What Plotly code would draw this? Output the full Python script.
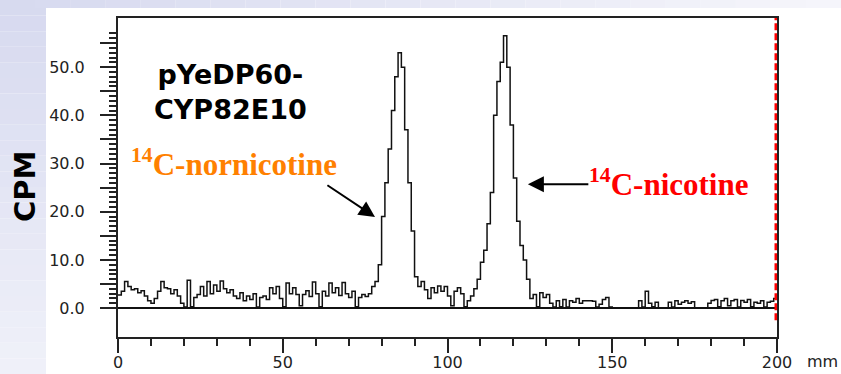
import plotly.graph_objects as go

# ---- data ----
position_mm = list(range(0, 201))
cpm = [
    2.7, 3.5, 5.5, 4.5, 3.8, 4.0, 3.2, 3.6, 2.5, 1.5,
    1.0, 2.0, 3.5, 5.5, 4.2, 4.0, 3.0, 3.8, 2.5, 1.0,
    0.2, 5.8, 0.3, 2.2, 2.8, 4.5, 2.5, 5.5, 3.0, 4.8,
    3.5, 5.6, 4.0, 3.2, 3.8, 2.5, 2.0, 3.2, 1.5, 2.5,
    1.8, 3.0, 0.2, 2.2, 2.5, 1.8, 4.2, 3.0, 4.5, 2.0,
    0.3, 5.2, 3.0, 4.2, 2.8, 0.5, 2.8, 3.6, 2.4, 5.4,
    3.0, 0.3, 3.5, 2.5, 5.2, 3.2, 4.2, 2.6, 5.3, 3.0,
    2.2, 3.5, 0.3, 2.2, 2.8, 2.4, 3.0, 4.5, 5.5, 9.0,
    19.0, 26.0, 33.0, 41.0, 48.0, 53.0, 50.0, 37.0, 26.0, 16.0,
    6.5, 4.5, 5.5, 3.8, 2.0, 4.2, 3.2, 4.6, 3.5, 4.5,
    2.5, 0.5, 3.5, 4.2, 3.0, 0.3, 1.5, 2.5, 4.0, 6.0,
    9.5, 12.0, 17.5, 24.0, 40.0, 47.0, 51.0, 56.5, 50.0, 38.0,
    27.0, 18.0, 13.0, 10.0, 6.0, 2.0, 2.8, 0.3, 3.2, 2.2,
    2.8, 1.0, 0.2, 1.5, 0.3, 1.8, 0.2, 1.5, 1.2, 2.0,
    1.0, 1.5, 1.5, 1.5, 1.4, 0.2, 0.8, 1.8, 2.2, 0.2,
    0.0, 0.0, 0.0, 0.0, 0.0, 0.0, 0.0, 0.0, 1.5, 0.2,
    3.5, 1.0, 0.3, 1.2, 0.0, 0.0, 0.0, 1.2, 0.2, 1.5,
    0.8, 1.2, 1.5, 1.0, 1.3, 0.0, 0.0, 0.0, 0.0, 1.0,
    1.6, 1.8, 0.3, 1.5, 2.0, 0.5, 1.5, 1.8, 0.2, 1.6,
    1.2, 1.8, 0.3, 1.2, 1.0, 1.5, 0.2, 1.2, 1.4, 2.0,
    1.8,
]

y_major_vals = [0, 5, 10, 15, 20, 25, 30, 35, 40, 45, 50, 55]
y_major_text = ["0.0", "", "10.0", "", "20.0", "", "30.0", "", "40.0", "", "50.0", ""]
y_minor_vals = [v for v in range(1, 58) if v % 5 != 0]
x_major_vals = [0, 50, 100, 150, 200]
x_major_text = ["0", "50", "100", "150", "200"]
x_minor_vals = [10, 20, 30, 40, 60, 70, 80, 90, 110, 120, 130, 140, 160, 170, 180, 190]

title_text = "pYeDP60-<br>CYP82E10"
label_nornicotine = "<sup>14</sup>C-nornicotine"
label_nicotine = "<sup>14</sup>C-nicotine"
front_mm = 199.7

# ---- figure ----
W, H = 841, 374
ML, MR, MT, MB = 118, 64, 18, 37
PW, PH = W - ML - MR, H - MT - MB

def px_to_paper_x(px):
    return (px - ML) / PW

def py_to_paper_y(py):
    return (H - MB - py) / PH

fig = go.Figure()
fig.add_trace(go.Scatter(
    x=position_mm, y=cpm, mode="lines",
    line=dict(color="#111111", width=1.5, shape="hv"),
    hoverinfo="skip", showlegend=False,
))

shapes = []
# slide background gradient (left strip and top strip)
n_bands = 24
def mix(c1, c2, t):
    return "rgb(%d,%d,%d)" % tuple(round(a + (b - a) * t) for a, b in zip(c1, c2))
top_col = (214, 217, 239)
bot_col = (240, 241, 249)
right_col = (246, 246, 251)
for i in range(n_bands):
    t0, t1 = i / n_bands, (i + 1) / n_bands
    shapes.append(dict(type="rect", xref="paper", yref="paper", layer="below",
                       x0=px_to_paper_x(0), x1=px_to_paper_x(46),
                       y0=py_to_paper_y(H * t1), y1=py_to_paper_y(H * t0),
                       fillcolor=mix(top_col, bot_col, (t0 + t1) / 2), line=dict(width=0)))
    shapes.append(dict(type="rect", xref="paper", yref="paper", layer="below",
                       x0=px_to_paper_x(W * t0), x1=px_to_paper_x(W * t1),
                       y0=py_to_paper_y(8), y1=py_to_paper_y(0),
                       fillcolor=mix(top_col, right_col, (t0 + t1) / 2), line=dict(width=0)))
# red dashed front line at right edge
shapes.append(dict(type="line", xref="x", yref="y", x0=front_mm, x1=front_mm,
                   y0=-2.5, y1=60.2, line=dict(color="#ff0000", width=3, dash="7px,3px")))

annotations = [
    dict(text=title_text, x=34.0, y=44.8, xref="x", yref="y", showarrow=False,
         font=dict(family="DejaVu Sans", size=27, color="#000000", weight="bold"),
         align="center", xanchor="center", yanchor="middle"),
    dict(text=label_nornicotine, x=35.2, y=30.3, xref="x", yref="y", showarrow=False,
         font=dict(family="Liberation Serif", size=31, color="#ff8000", weight="bold"),
         xanchor="center", yanchor="middle"),
    dict(text=label_nicotine, x=167.1, y=26.0, xref="x", yref="y", showarrow=False,
         font=dict(family="Liberation Serif", size=31, color="#ff0000", weight="bold"),
         xanchor="center", yanchor="middle"),
    dict(text="", x=78.0, y=18.9, ax=63.1, ay=25.7, xref="x", yref="y", axref="x", ayref="y",
         showarrow=True, arrowhead=2, arrowsize=1.6, arrowwidth=2, arrowcolor="#000000"),
    dict(text="", x=124.4, y=25.7, ax=143.2, ay=25.7, xref="x", yref="y", axref="x", ayref="y",
         showarrow=True, arrowhead=2, arrowsize=1.6, arrowwidth=2, arrowcolor="#000000"),
    dict(text="mm", x=px_to_paper_x(840), y=py_to_paper_y(361), xref="paper", yref="paper",
         showarrow=False, font=dict(family="DejaVu Sans", size=16, color="#222222"),
         xanchor="right", yanchor="middle"),
    dict(text="CPM", x=px_to_paper_x(25), y=py_to_paper_y(187), xref="paper", yref="paper",
         showarrow=False, textangle=-90,
         font=dict(family="DejaVu Sans", size=29, color="#000000", weight="bold"),
         xanchor="center", yanchor="middle"),
]

fig.update_layout(
    width=W, height=H,
    margin=dict(l=ML, r=MR, t=MT, b=MB, pad=0, autoexpand=False),
    paper_bgcolor="#ffffff", plot_bgcolor="#ffffff",
    shapes=shapes, annotations=annotations,
    xaxis=dict(range=[0, 200], showgrid=False, zeroline=False, automargin=False,
               showline=True, linecolor="#222222", linewidth=2, mirror=True,
               tickmode="array", tickvals=x_major_vals, ticktext=x_major_text,
               ticks="outside", ticklen=14, tickwidth=2, tickcolor="#222222",
               ticklabelstandoff=-4,
               tickfont=dict(family="DejaVu Sans", size=16, color="#222222"),
               minor=dict(tickmode="array", tickvals=x_minor_vals, ticks="outside",
                          ticklen=7, tickwidth=2, tickcolor="#222222", showgrid=False)),
    yaxis=dict(range=[-6.0, 60.2], showgrid=False, automargin=False,
               zeroline=True, zerolinecolor="#111111", zerolinewidth=2,
               showline=True, linecolor="#222222", linewidth=2, mirror=True,
               tickmode="array", tickvals=y_major_vals, ticktext=y_major_text,
               ticks="outside", ticklen=16, tickwidth=2, tickcolor="#222222",
               ticklabelstandoff=12,
               tickfont=dict(family="DejaVu Sans", size=16, color="#222222"),
               minor=dict(tickmode="array", tickvals=y_minor_vals, ticks="outside",
                          ticklen=7, tickwidth=2, tickcolor="#222222", showgrid=False)),
)

fig.write_html("out.html")
